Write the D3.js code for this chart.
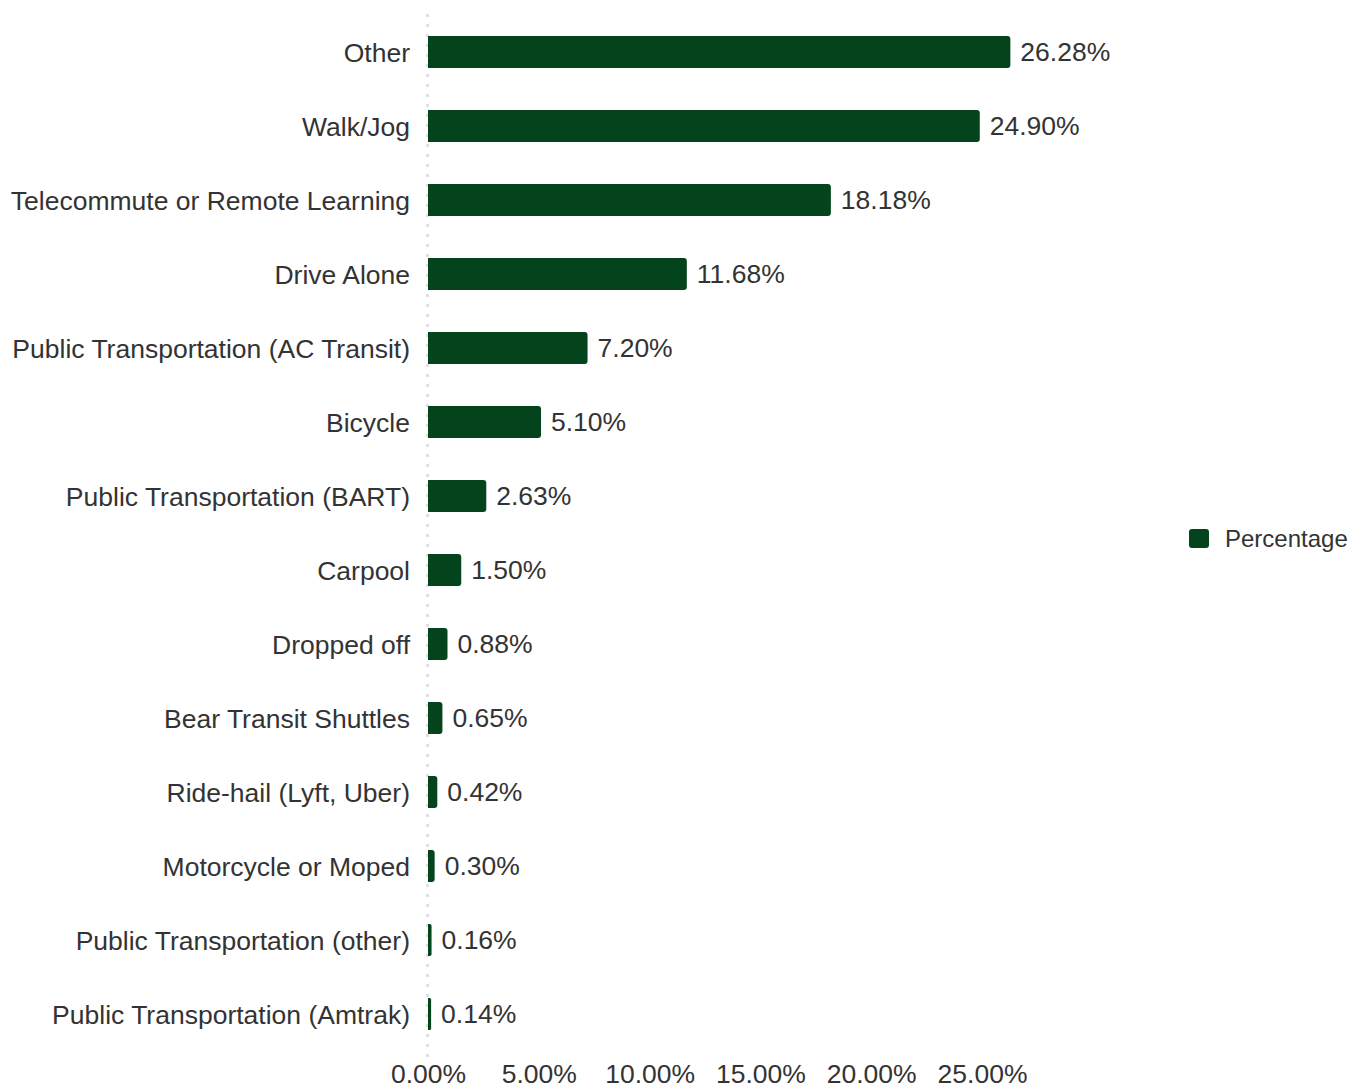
<!DOCTYPE html>
<html>
<head>
<meta charset="utf-8">
<script src="https://cdn.jsdelivr.net/npm/d3@7"></script>
<style>
  body { margin: 0; background: #fff; }
  svg text { font-family: "Liberation Sans", Arial, sans-serif; fill: #333; }
</style>
</head>
<body>
<svg id="chart" width="1365" height="1091"></svg>
<script>
// modes of travel, top to bottom
const categories = [
  "Other",
  "Walk/Jog",
  "Telecommute or Remote Learning",
  "Drive Alone",
  "Public Transportation (AC Transit)",
  "Bicycle",
  "Public Transportation (BART)",
  "Carpool",
  "Dropped off",
  "Bear Transit Shuttles",
  "Ride-hail (Lyft, Uber)",
  "Motorcycle or Moped",
  "Public Transportation (other)",
  "Public Transportation (Amtrak)"
];
const percentages = [26.28, 24.90, 18.18, 11.68, 7.20, 5.10, 2.63, 1.50, 0.88, 0.65, 0.42, 0.30, 0.16, 0.14];
const tickValues = [0, 5, 10, 15, 20, 25];
const seriesName = "Percentage";

const barColor = "#03441c";
const fontFamily = '"Liberation Sans", Arial, sans-serif';
const labelSize = 26.5;
const svg = d3.select("#chart");

const x = d3.scaleLinear().domain([0, 25]).range([428, 982]);
const y = d3.scaleBand().domain(categories).range([15, 1051]).paddingInner(0.568).paddingOuter(0.284);

// dotted baseline at zero
svg.append("line")
  .attr("x1", x(0) - 0.5).attr("x2", x(0) - 0.5)
  .attr("y1", 14).attr("y2", 1058)
  .attr("stroke", "#e0e0e0")
  .attr("stroke-width", 3)
  .attr("stroke-dasharray", "3,7");

// bars with rounded right end
svg.append("g")
  .selectAll("path")
  .data(categories)
  .join("path")
  .attr("fill", barColor)
  .attr("d", (d, i) => {
    const x0 = x(0), x1 = x(percentages[i]);
    const y0 = y(d), h = y.bandwidth();
    const r = Math.min(3, (x1 - x0) / 2);
    return `M${x0},${y0} H${x1 - r} Q${x1},${y0} ${x1},${y0 + r} V${y0 + h - r} Q${x1},${y0 + h} ${x1 - r},${y0 + h} H${x0} Z`;
  });

// value labels
svg.append("g")
  .selectAll("text")
  .data(categories)
  .join("text")
  .attr("x", (d, i) => x(percentages[i]) + 10)
  .attr("y", d => y(d) + y.bandwidth() / 2)
  .attr("dy", "0.35em")
  .attr("font-size", labelSize)
  .text((d, i) => percentages[i].toFixed(2) + "%");

// category axis
const yAxis = svg.append("g")
  .attr("transform", "translate(410,0)")
  .call(d3.axisLeft(y).tickSize(0).tickPadding(0));
yAxis.select(".domain").remove();
yAxis.selectAll("text").attr("font-size", labelSize).attr("fill", "#333").attr("dy", "0.38em")
  .style("font-family", fontFamily);

// value axis
const xAxis = svg.append("g")
  .attr("transform", "translate(0,1064)")
  .call(d3.axisBottom(x).tickValues(tickValues).tickSize(0).tickPadding(0)
    .tickFormat(d => d.toFixed(2) + "%"));
xAxis.select(".domain").remove();
xAxis.selectAll("text").attr("font-size", labelSize).attr("fill", "#333").attr("dy", "0.71em")
  .style("font-family", fontFamily);

// legend
const legend = svg.append("g").attr("transform", "translate(1189,529)");
legend.append("rect")
  .attr("width", 20).attr("height", 19).attr("rx", 3)
  .attr("fill", barColor);
legend.append("text")
  .attr("x", 36).attr("y", 10)
  .attr("dy", "0.35em")
  .attr("font-size", 24)
  .text(seriesName);
</script>
</body>
</html>
